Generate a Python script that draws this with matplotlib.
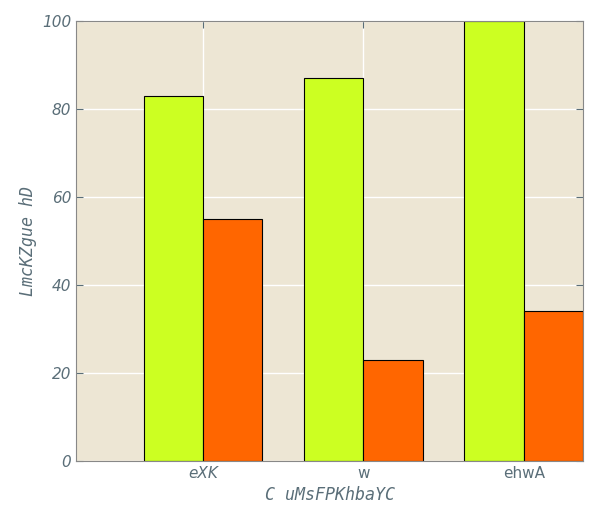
import matplotlib.pyplot as plt
import numpy as np

categories = ['eXK', 'w', 'ehwA']
series_a = [83, 87, 100]
series_b = [55, 23, 34]

fig = plt.figure(figsize=(6, 5.25), dpi=100)
ax = fig.add_axes([0.127, 0.122, 0.845, 0.838])
ax.set_facecolor('#ede6d4')
x = np.arange(len(categories))
w = 0.37
ax.bar(x - w/2, series_a, w, color='#ccff22', edgecolor='black', linewidth=0.8, zorder=2)
ax.bar(x + w/2, series_b, w, color='#ff6600', edgecolor='black', linewidth=0.8, zorder=2)
ax.set_xlim(-0.79, 2.37)
ax.set_ylim(0, 100)
ax.grid(True, color='white', linewidth=1, zorder=0)
ax.set_xticks(x)
ax.set_xticklabels(categories)
labs = ax.get_xticklabels()
labs[0].set_fontstyle('italic'); labs[0].set_fontsize(11)
labs[1].set_fontsize(10)
labs[2].set_fontsize(9)
for l in ax.get_yticklabels():
    l.set_fontstyle('italic')
ax.tick_params(colors='#5a6e78', labelsize=11, direction='in', length=5, top=True, right=True)
for s in ax.spines.values():
    s.set_color('#888888')
ax.set_xlabel('C uMsFPKhbaYC', family='DejaVu Sans Mono', style='italic', fontsize=12, color='#5a6e78')
ax.set_ylabel('LmcKZgue hD', family='DejaVu Sans Mono', style='italic', fontsize=12, color='#5a6e78')
fig.savefig('out.png')
